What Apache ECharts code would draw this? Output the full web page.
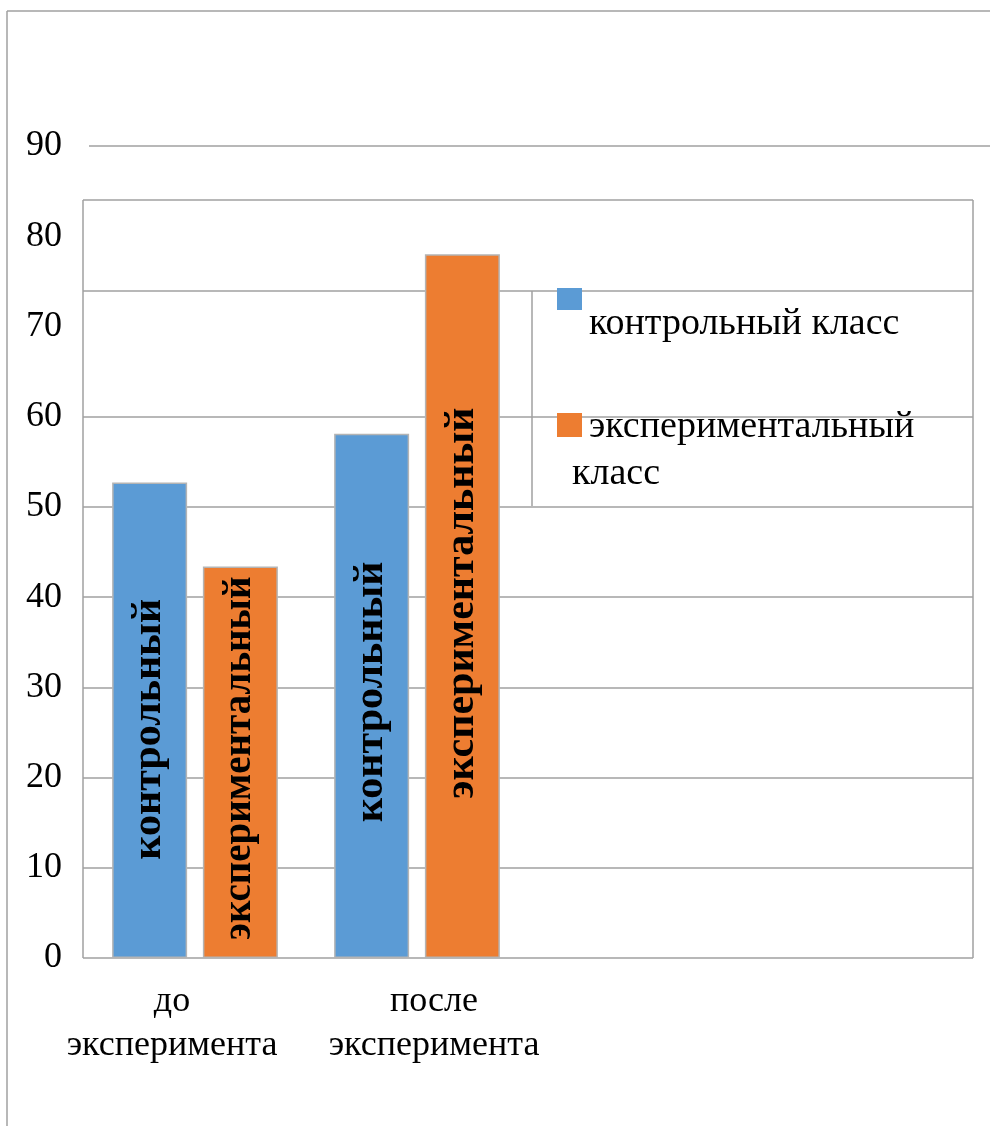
<!DOCTYPE html>
<html><head><meta charset="utf-8">
<script src="https://cdn.jsdelivr.net/npm/echarts@6/dist/echarts.min.js"></script>
<style>html,body{margin:0;padding:0;background:#fff}#c{width:990px;height:1126px}</style>
</head><body><div id="c"></div>
<script>
const categories = ['до\nэксперимента', 'после\nэксперимента'];
const seriesNames = ['контрольный класс', 'экспериментальный класс'];
const barLabels = ['контрольный', 'экспериментальный'];
const controlValues = [52.7, 58.1];
const experimentalValues = [43.4, 78.0];
const yMin = 0, yMax = 90, yStep = 10;
const colors = ['#5b9bd5', '#ed7d31'];

// per-bar label styling (not data); offsets are in the label's rotated frame
const controlLabelStyle = [{offset: [-9, 0], fontSize: 42}, {offset: [4, 0], fontSize: 42}];
const experimentalLabelStyle = [{offset: [4, 0], fontSize: 39}, {offset: [3, 0], fontSize: 42}];

const FONT = "'Liberation Serif', 'Times New Roman', serif";
const LINE = '#a0a0a0';
const chart = echarts.init(document.getElementById('c'), null, {renderer: 'canvas'});

// which horizontal value lines are drawn across the wide frame (0..60 shown, 70/80/90 not)
const splitColors = [LINE, LINE, LINE, LINE, LINE, LINE, LINE, 'rgba(0,0,0,0)', 'rgba(0,0,0,0)', 'rgba(0,0,0,0)'];

function hline(x1, x2, y) {
  return {type: 'line', shape: {x1: x1, y1: y, x2: x2, y2: y}, style: {stroke: LINE, lineWidth: 1.5}, silent: true};
}
function vline(x, y1, y2) {
  return {type: 'line', shape: {x1: x, y1: y1, x2: x, y2: y2}, style: {stroke: LINE, lineWidth: 1.5}, silent: true};
}
function withLabels(values, styles) {
  return values.map(function (v, i) { return {value: v, label: styles[i]}; });
}

const option = {
  animation: false,
  backgroundColor: '#fff',
  color: colors,
  textStyle: {fontFamily: FONT},
  grid: [
    {left: 84, right: 462, top: 146, bottom: 168, containLabel: false},
    {left: 83, right: 17, top: 146, bottom: 168, containLabel: false}
  ],
  xAxis: [
    {
      type: 'category', gridIndex: 0, data: categories,
      axisLine: {show: false}, axisTick: {show: false}, splitLine: {show: false},
      axisLabel: {
        interval: 0, margin: 22, color: '#000', fontFamily: FONT, fontSize: 36, lineHeight: 44,
        formatter: function (v, i) {
          const key = i === 0 ? 'l' : 'r';
          return v.split('\n').map(function (s) { return '{' + key + '|' + s + '}'; }).join('\n');
        },
        rich: {
          l: {fontFamily: FONT, fontSize: 36, lineHeight: 44, color: '#000', padding: [0, 46, 0, 0]},
          r: {fontFamily: FONT, fontSize: 36, lineHeight: 44, color: '#000', padding: [0, 0, 0, 34]}
        }
      }
    },
    {type: 'value', gridIndex: 1, show: false, min: 0, max: 1}
  ],
  yAxis: [
    {
      type: 'value', gridIndex: 0, min: yMin, max: yMax, interval: yStep,
      axisLine: {show: false}, axisTick: {show: false}, splitLine: {show: false},
      axisLabel: {margin: 22, color: '#000', fontFamily: FONT, fontSize: 36}
    },
    {
      type: 'value', gridIndex: 1, min: yMin, max: yMax, interval: yStep,
      axisLine: {show: false}, axisTick: {show: false}, axisLabel: {show: false},
      splitLine: {show: true, lineStyle: {color: splitColors, width: 1.5}}
    }
  ],
  series: [
    {
      name: seriesNames[0], type: 'bar', xAxisIndex: 0, yAxisIndex: 0,
      data: withLabels(controlValues, controlLabelStyle), barWidth: 75, barGap: '21%',
      itemStyle: {color: colors[0], borderColor: '#b4b4b4', borderWidth: 1.5},
      label: {show: true, position: 'inside', rotate: 90, formatter: barLabels[0],
        color: '#000', fontFamily: FONT, fontWeight: 'bold', fontSize: 42}
    },
    {
      name: seriesNames[1], type: 'bar', xAxisIndex: 0, yAxisIndex: 0,
      data: withLabels(experimentalValues, experimentalLabelStyle), barWidth: 75, barGap: '21%',
      itemStyle: {color: colors[1], borderColor: '#b4b4b4', borderWidth: 1.5},
      label: {show: true, position: 'inside', rotate: 90, formatter: barLabels[1],
        color: '#000', fontFamily: FONT, fontWeight: 'bold', fontSize: 42}
    }
  ]
};
chart.setOption(option);

// value-based line at the top tick (90), drawn wider than the plot frame
const y90 = chart.convertToPixel({yAxisIndex: 0}, yMax);

chart.setOption({
  graphic: [
    // outer border (top and left)
    hline(7, 990, 11),
    vline(7, 11, 1126),
    // top tick line
    hline(89, 990, y90),
    // plot frame
    hline(83, 973, 200),
    vline(83, 200, 958),
    vline(973, 200, 958),
    // legend frame
    hline(83, 973, 291),
    vline(532, 291, 506),
    // legend
    {type: 'rect', shape: {x: 557, y: 288, width: 25, height: 22}, style: {fill: colors[0]}},
    {type: 'text', x: 589, y: 324, style: {text: seriesNames[0], fill: '#000', font: '38px ' + FONT, verticalAlign: 'middle'}},
    {type: 'rect', shape: {x: 557, y: 413, width: 25, height: 24}, style: {fill: colors[1]}},
    {type: 'text', x: 589, y: 427, style: {text: 'экспериментальный', fill: '#000', font: '38px ' + FONT, verticalAlign: 'middle'}},
    {type: 'text', x: 572, y: 474, style: {text: 'класс', fill: '#000', font: '38px ' + FONT, verticalAlign: 'middle'}}
  ]
});
</script>
</body></html>
